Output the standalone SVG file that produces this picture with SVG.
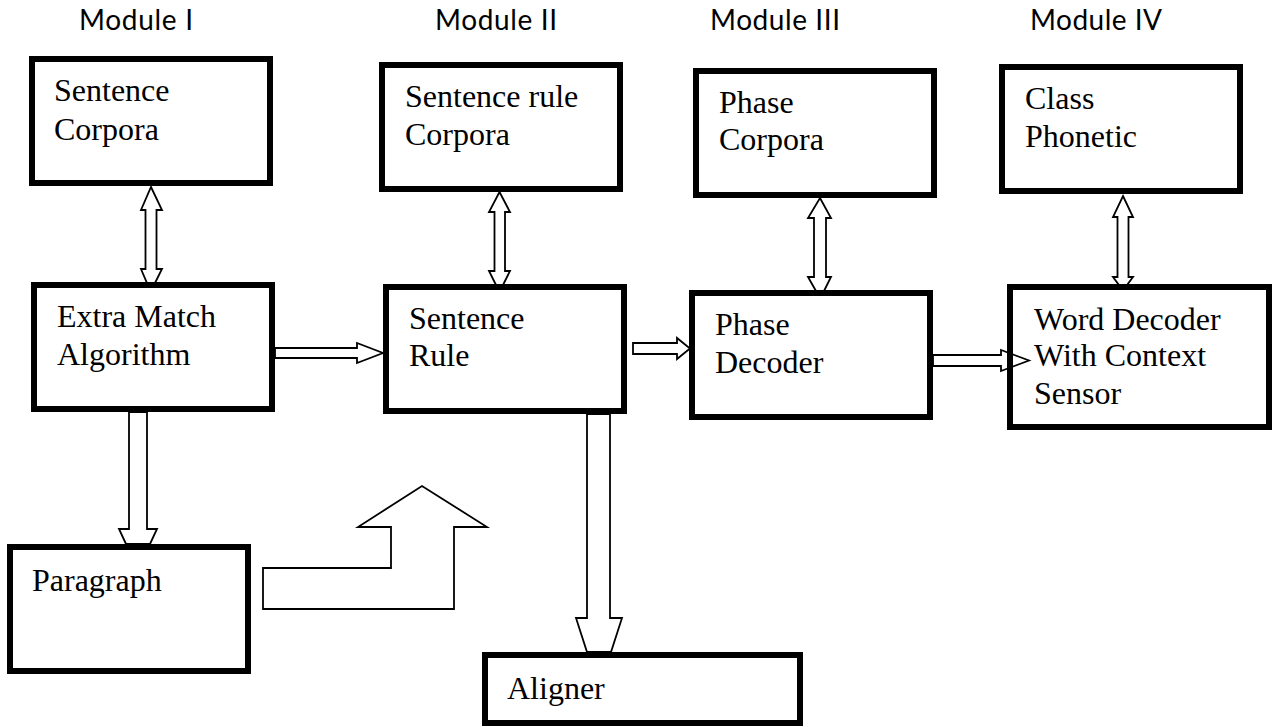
<svg xmlns="http://www.w3.org/2000/svg" width="1273" height="727" viewBox="0 0 1273 727">
  <style>
    .box { fill: #ffffff; stroke: #000000; stroke-width: 6; }
    .lbl { font-family: "Liberation Serif", "Times New Roman", serif; font-size: 32px; fill: #000000; }
    .mod { font-family: Lato, "Open Sans", "Liberation Sans", sans-serif; font-size: 28px; fill: #000000; }
    .arrow { fill: none; stroke: #000000; stroke-width: 1.8; stroke-linejoin: miter; }
  </style>

  <rect x="0" y="0" width="1273" height="727" fill="#ffffff"/>

  <!-- module headings -->
  <g id="headings">
    <text class="mod" x="79" y="30" textLength="114">Module I</text>
    <text class="mod" x="435" y="30" textLength="122">Module II</text>
    <text class="mod" x="710" y="30" textLength="130">Module III</text>
    <text class="mod" x="1030" y="30" textLength="132">Module IV</text>
  </g>

  <!-- Module I -->
  <g id="sentence-corpora">
    <rect class="box" x="32" y="59" width="238" height="124"/>
    <text class="lbl"><tspan x="54" y="101">Sentence</tspan><tspan x="54" y="140">Corpora</tspan></text>
  </g>
  <g id="extra-match">
    <rect class="box" x="34" y="285" width="238" height="124"/>
    <text class="lbl"><tspan x="57" y="327">Extra Match</tspan><tspan x="57" y="365">Algorithm</tspan></text>
  </g>
  <g id="paragraph">
    <rect class="box" x="10" y="547" width="238" height="124"/>
    <text class="lbl"><tspan x="32" y="591">Paragraph</tspan></text>
  </g>

  <!-- Module II -->
  <g id="sentence-rule-corpora">
    <rect class="box" x="382" y="65" width="238" height="124"/>
    <text class="lbl"><tspan x="405" y="107">Sentence rule</tspan><tspan x="405" y="145">Corpora</tspan></text>
  </g>
  <g id="sentence-rule">
    <rect class="box" x="386" y="287" width="238" height="124"/>
    <text class="lbl"><tspan x="409" y="329">Sentence</tspan><tspan x="409" y="366">Rule</tspan></text>
  </g>
  <g id="aligner">
    <rect class="box" x="485" y="655" width="315" height="68"/>
    <text class="lbl"><tspan x="507" y="699">Aligner</tspan></text>
  </g>

  <!-- Module III -->
  <g id="phase-corpora">
    <rect class="box" x="696" y="71" width="238" height="124"/>
    <text class="lbl"><tspan x="719" y="113">Phase</tspan><tspan x="719" y="150">Corpora</tspan></text>
  </g>
  <g id="phase-decoder">
    <rect class="box" x="692" y="293" width="238" height="124"/>
    <text class="lbl"><tspan x="715" y="335">Phase</tspan><tspan x="715" y="373">Decoder</tspan></text>
  </g>

  <!-- Module IV -->
  <g id="class-phonetic">
    <rect class="box" x="1002" y="67" width="238" height="124"/>
    <text class="lbl"><tspan x="1025" y="109">Class</tspan><tspan x="1025" y="147">Phonetic</tspan></text>
  </g>
  <g id="word-decoder">
    <rect class="box" x="1010" y="287" width="259" height="140"/>
    <text class="lbl"><tspan x="1034" y="330">Word Decoder</tspan><tspan x="1034" y="366">With Context</tspan><tspan x="1034" y="404">Sensor</tspan></text>
  </g>

  <!-- block arrows -->
  <g id="connectors">
    <!-- two-way links between corpora and processing blocks -->
    <polygon class="arrow" points="151,187 162,210 156.5,210 156.5,269 162,269 155,283 147,283 141,269 145.5,269 145.5,210 141,210"/>
    <polygon class="arrow" points="499.5,192 510,212 505,212 505,271 510,271 503,285 496,285 489,271 494.5,271 494.5,212 489,212"/>
    <polygon class="arrow" points="820,198 831,218 826,218 826,277 831,277 824,291 816,291 808,277 814,277 814,218 808,218"/>
    <polygon class="arrow" points="1123,196 1133,217 1128.5,217 1128.5,277 1133,277 1127,285 1119,285 1113,277 1117.5,277 1117.5,217 1113,217"/>

    <!-- forward flow -->
    <polygon class="arrow" points="275,348 357,348 357,343 383,353 357,363 357,358 275,358"/>
    <polygon class="arrow" points="633,343 677,343 677,338 690,348.5 677,359 677,354 633,354"/>
    <polygon class="arrow" points="933,355 1001,355 1001,350 1029,360.5 1001,371 1001,366 933,366"/>

    <!-- downward outputs -->
    <polygon class="arrow" points="129,412 147,412 147,529 157,529 150,544 126,544 119,529 129,529"/>
    <polygon class="arrow" points="587,414 610,414 610,618 622,618 611,652 587,652 576,618 587,618"/>

    <!-- bent return arrow -->
    <polygon class="arrow" points="263,568 391,568 391,527 358,527 422,486 487,527 454,527 454,609 263,609"/>
  </g>
</svg>
